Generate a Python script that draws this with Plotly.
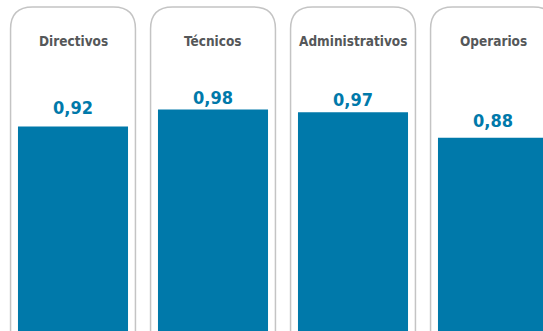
import plotly.graph_objects as go

# Data
categories = ["Directivos", "Técnicos", "Administrativos", "Operarios"]
values = [0.92, 0.98, 0.97, 0.88]
value_labels = ["0,92", "0,98", "0,97", "0,88"]

# Label offsets above each bar (pixels)
label_shift = [19, 12, 13, 17]

BLUE = "#0079aa"
GREY_TEXT = "#555759"
PANEL_LINE = "#c4c4c4"
FONT = "DejaVu Sans Condensed, DejaVu Sans, sans-serif"

W, H = 543, 331
x = list(range(len(categories)))

fig = go.Figure()
fig.add_trace(go.Bar(
    x=x, y=values,
    marker=dict(color=BLUE, line=dict(width=0)),
    hoverinfo="skip",
))

# Rounded-top panel behind each category
half_w = 0.446
rx = 22 / 140
top = 1 - 7 / H
ry = 22 / H
shapes = []
for i in x:
    xl, xr = i - half_w, i + half_w
    path = (f"M {xl},-0.02 L {xl},{top - ry} Q {xl},{top} {xl + rx},{top} "
            f"L {xr - rx},{top} Q {xr},{top} {xr},{top - ry} L {xr},-0.02")
    shapes.append(dict(type="path", path=path, xref="x", yref="paper",
                       line=dict(color=PANEL_LINE, width=1.5), layer="below"))

annotations = []
for i, (cat, v, lab, sh) in enumerate(zip(categories, values, value_labels, label_shift)):
    annotations.append(dict(
        x=i, y=1 - 41 / H, xref="x", yref="paper",
        text=f"<span style='font-stretch:condensed'><b>{cat}</b></span>",
        showarrow=False, xanchor="center", yanchor="middle",
        font=dict(family=FONT, size=13.5, color=GREY_TEXT),
    ))
    annotations.append(dict(
        x=i, y=v, xref="x", yref="y",
        text=f"<span style='font-stretch:condensed'><b>{lab}</b></span>",
        showarrow=False, xanchor="center", yanchor="middle", yshift=sh,
        font=dict(family=FONT, size=18, color=BLUE),
    ))

fig.update_layout(
    width=W, height=H,
    margin=dict(l=0, r=0, t=0, b=0),
    paper_bgcolor="white", plot_bgcolor="white",
    showlegend=False,
    bargap=0.214,
    xaxis=dict(range=[-73 / 140, (W - 73) / 140], visible=False, fixedrange=True),
    yaxis=dict(range=[0.2, 1.365], visible=False, fixedrange=True),
    shapes=shapes,
    annotations=annotations,
)

fig.write_html("out.html", config={"displayModeBar": False})
